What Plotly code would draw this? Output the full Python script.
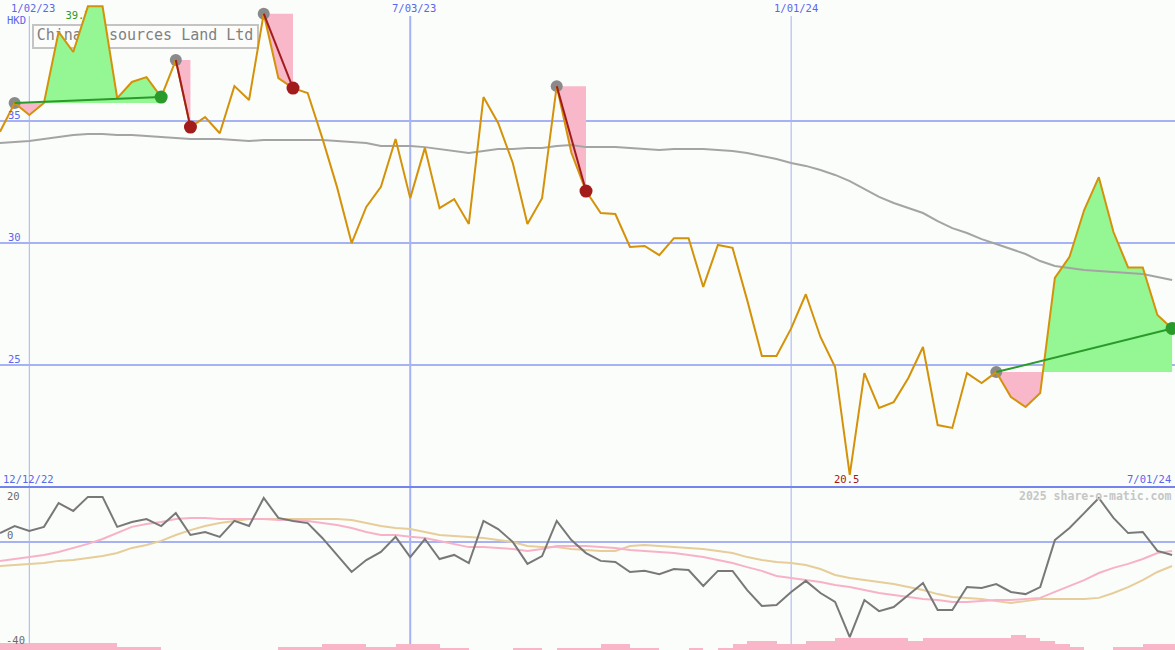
import numpy as np
import pandas as pd
import plotly.graph_objects as go

# ---------------- data ----------------
start_week = "2022-12-19"
n_weeks = 81

price = [34.56, 35.74, 35.25, 35.74, 38.65, 37.83, 39.7, 39.7, 35.94, 36.6,
         36.8, 35.98, 37.5, 34.75, 35.16, 34.5, 36.43, 35.86, 39.4, 36.76,
         36.35, 36.15, 34.3, 32.3, 30.0, 31.48, 32.3, 34.26, 31.84, 33.9,
         31.43, 31.8, 30.78, 35.98, 34.92, 33.28, 30.78, 31.84, 36.43, 33.7,
         32.13, 31.23, 31.19, 29.84, 29.88, 29.5, 30.2, 30.2, 28.2, 29.92,
         29.8, 27.66, 25.37, 25.37, 26.5, 27.9, 26.15, 24.92, 20.5, 24.67,
         23.24, 23.48, 24.47, 25.74, 22.54, 22.42, 24.67, 24.26, 24.71, 23.69,
         23.28, 23.85, 28.57, 29.43, 31.35, 32.7, 30.45, 29.0, 29.0, 27.05, 26.5]

moving_avg = [34.10, 34.14, 34.18, 34.26, 34.34, 34.43, 34.47, 34.47, 34.43, 34.43,
              34.39, 34.34, 34.30, 34.26, 34.26, 34.26, 34.22, 34.18, 34.22, 34.22,
              34.22, 34.22, 34.22, 34.18, 34.14, 34.10, 33.98, 33.98, 33.98, 33.93,
              33.85, 33.77, 33.69, 33.77, 33.85, 33.85, 33.89, 33.89, 33.98, 34.02,
              33.93, 33.93, 33.93, 33.89, 33.85, 33.81, 33.85, 33.85, 33.85, 33.81,
              33.77, 33.69, 33.57, 33.44, 33.28, 33.16, 32.99, 32.79, 32.54, 32.21,
              31.89, 31.64, 31.43, 31.23, 30.90, 30.61, 30.41, 30.16, 29.96, 29.75,
              29.55, 29.26, 29.06, 28.98, 28.89, 28.85, 28.81, 28.77, 28.73, 28.61, 28.48]

oscillator = [3.3, 5.9, 4.1, 5.6, 14.4, 11.5, 16.7, 16.7, 5.6, 7.4,
              8.5, 5.9, 10.7, 2.6, 3.7, 1.9, 7.8, 5.9, 16.3, 8.9,
              7.8, 7.0, 1.5, -4.8, -11.1, -6.7, -3.7, 1.9, -5.6, 1.1,
              -6.3, -4.8, -7.8, 7.8, 4.8, 0.0, -8.1, -5.2, 7.8, 0.7,
              -4.1, -7.0, -7.4, -11.1, -10.7, -11.9, -10.0, -10.4, -16.3, -10.7,
              -10.7, -17.8, -23.7, -23.3, -18.5, -14.4, -18.9, -22.2, -35.2, -21.5,
              -25.6, -24.1, -19.6, -15.2, -25.2, -25.2, -16.7, -17.0, -15.6, -18.5,
              -19.3, -16.7, 0.7, 5.2, 10.7, 16.3, 8.9, 3.3, 3.7, -3.3, -4.8]

osc_fast = [-7.0, -6.3, -5.6, -4.8, -3.7, -2.2, -0.7, 1.1, 3.3, 5.6,
            6.7, 7.4, 8.5, 8.9, 8.9, 8.5, 8.5, 8.5, 8.5, 8.1,
            8.1, 7.8, 7.0, 6.3, 5.2, 3.7, 2.6, 2.6, 1.9, 1.5,
            0.4, -0.7, -1.9, -1.9, -2.2, -2.6, -3.3, -2.6, -1.5, -1.5,
            -1.5, -1.9, -2.2, -3.0, -3.3, -3.7, -4.1, -4.8, -5.6, -6.7,
            -7.8, -9.3, -10.7, -12.6, -13.3, -14.1, -14.8, -15.9, -16.7, -17.8,
            -18.9, -19.6, -20.4, -21.1, -21.5, -22.2, -22.2, -21.9, -21.5, -21.5,
            -21.1, -20.7, -18.5, -16.3, -14.1, -11.5, -9.6, -8.1, -6.3, -4.1, -3.3]

osc_slow = [-8.9, -8.5, -8.1, -7.8, -7.0, -6.7, -5.9, -5.2, -4.1, -2.2,
            -1.1, 0.4, 2.6, 4.4, 5.9, 7.0, 7.8, 8.5, 8.5, 8.5,
            8.5, 8.5, 8.5, 8.5, 8.1, 7.0, 5.9, 5.2, 4.8, 3.7,
            2.6, 2.2, 1.9, 1.5, 0.7, 0.0, -1.5, -1.9, -1.9, -2.6,
            -3.0, -3.3, -3.3, -1.5, -1.1, -1.5, -1.9, -2.2, -2.6, -3.3,
            -4.1, -5.6, -6.7, -7.4, -7.8, -8.5, -10.0, -12.2, -13.3, -14.1,
            -14.8, -15.6, -16.7, -17.8, -19.3, -20.4, -20.7, -21.1, -21.9, -22.6,
            -21.9, -21.1, -21.1, -21.1, -21.1, -20.7, -18.9, -16.7, -14.1, -11.1, -8.9]

volume = [7, 7, 7, 7, 7, 7, 7, 7, 3, 3,
          3, 0, 0, 0, 0, 0, 0, 0, 0, 3,
          3, 3, 6, 6, 6, 3, 3, 6, 6, 6,
          2, 2, 0, 0, 0, 2, 2, 0, 2, 2,
          2, 6, 6, 2, 2, 0, 0, 2, 0, 2,
          6, 9, 9, 6, 6, 9, 9, 12, 12, 12,
          12, 12, 9, 12, 12, 12, 12, 12, 12, 15,
          12, 9, 6, 3, 0, 0, 3, 3, 6, 6, 6]

# signal segments: (start week index, end week index)
segments = [(1, 11), (12, 13), (18, 20), (38, 40), (68, 80)]

grid_prices = [35, 30, 25]
grid_dates = ["2023-01-02", "2023-07-03", "2024-01-01"]
grid_date_labels = ["1/02/23", "7/03/23", "1/01/24"]
title = "China Resources Land Ltd"
high_label = "39.7"
low_label = "20.5"

# ---------------- styling ----------------
W, H = 1175, 650
BG = "#fbfdfa"
GRID = "#a6b2f3"
SEP = "#7384ee"
BLUE_TXT = "#5a66ee"
ORANGE = "#d4920a"
GREEN_FILL = "#94f794"
PINK_FILL = "#f9b7ca"
GREEN_LINE = "#2a9a2a"
RED_LINE = "#a31c1c"
MONO = "DejaVu Sans Mono"

weeks = pd.date_range(start_week, periods=n_weeks, freq="7D")
x_start = pd.Timestamp(start_week)
x_end = x_start + pd.Timedelta(days=561.4)

fig = go.Figure()


def px(x):
    return x / W


def py(y):
    return 1 - y / H


# high label, then title text (both drawn below the fills as in the original)
fig.add_trace(go.Scatter(
    x=[x_start + pd.Timedelta(days=37.3)], y=[39.3], mode="text", text=[high_label],
    textfont=dict(family=MONO, size=10.5, color=GREEN_LINE), textposition="middle center",
    hoverinfo="skip", showlegend=False))
fig.add_trace(go.Scatter(
    x=[x_start + pd.Timedelta(days=69.3)], y=[38.46], mode="text", text=[title],
    textfont=dict(family=MONO, size=15, color="#808080"), textposition="middle center",
    hoverinfo="skip", showlegend=False, xaxis="x", yaxis="y"))


def fill_polys(i0, i1):
    base = price[i0]
    xs = weeks[i0:i1 + 1].asi8.astype(float)
    ys = price[i0:i1 + 1]
    ux, uy, dx, dy = [], [], [], []
    for k in range(len(xs)):
        if k > 0:
            a, b = ys[k - 1] - base, ys[k] - base
            if a * b < 0:
                xc = xs[k - 1] + (xs[k] - xs[k - 1]) * a / (a - b)
                ux.append(xc); uy.append(base)
                dx.append(xc); dy.append(base)
        ux.append(xs[k]); uy.append(max(ys[k], base))
        dx.append(xs[k]); dy.append(min(ys[k], base))
    ux += [xs[-1], xs[0]]; uy += [base, base]
    dx += [xs[-1], xs[0]]; dy += [base, base]
    conv = lambda arr: pd.to_datetime(np.array(arr, dtype="int64"))
    return (conv(ux), uy), (conv(dx), dy), any(v > base for v in ys), any(v < base for v in ys)


for i0, i1 in segments:
    (ux, uy), (dx, dy), has_up, has_dn = fill_polys(i0, i1)
    if has_up:
        fig.add_trace(go.Scatter(x=ux, y=uy, mode="lines", fill="toself", fillcolor=GREEN_FILL,
                                 line=dict(width=0), hoverinfo="skip", showlegend=False))
    if has_dn:
        fig.add_trace(go.Scatter(x=dx, y=dy, mode="lines", fill="toself", fillcolor=PINK_FILL,
                                 line=dict(width=0), hoverinfo="skip", showlegend=False))

# start markers (grey)
fig.add_trace(go.Scatter(x=[weeks[a] for a, b in segments], y=[price[a] for a, b in segments],
                         mode="markers", marker=dict(size=12, color="#8a8a8a"),
                         hoverinfo="skip", showlegend=False))

# moving average
fig.add_trace(go.Scatter(x=weeks, y=moving_avg, mode="lines", line=dict(color="#a4a4a4", width=2),
                         hoverinfo="skip", showlegend=False))

# price line
fig.add_trace(go.Scatter(x=weeks, y=price, mode="lines", line=dict(color=ORANGE, width=2),
                         hoverinfo="skip", showlegend=False))

# segment lines and end markers
for a, b in segments:
    col = GREEN_LINE if price[b] > price[a] else RED_LINE
    fig.add_trace(go.Scatter(x=[weeks[a], weeks[b]], y=[price[a], price[b]], mode="lines",
                             line=dict(color=col, width=2), hoverinfo="skip", showlegend=False))
    fig.add_trace(go.Scatter(x=[weeks[b]], y=[price[b]], mode="markers",
                             marker=dict(size=13, color=col), hoverinfo="skip", showlegend=False))

# volume bars (lower panel)
fig.add_trace(go.Bar(x=weeks, y=volume, offset=0, width=7 * 86400000,
                     marker=dict(color="#f9b6c8", line=dict(width=0)),
                     xaxis="x", yaxis="y3", hoverinfo="skip", showlegend=False))

# oscillator lines
fig.add_trace(go.Scatter(x=weeks, y=osc_slow, mode="lines", line=dict(color="#e6cd9a", width=2),
                         xaxis="x", yaxis="y2", hoverinfo="skip", showlegend=False))
fig.add_trace(go.Scatter(x=weeks, y=osc_fast, mode="lines", line=dict(color="#f8b2c8", width=2),
                         xaxis="x", yaxis="y2", hoverinfo="skip", showlegend=False))
fig.add_trace(go.Scatter(x=weeks, y=oscillator, mode="lines", line=dict(color="#787878", width=2),
                         xaxis="x", yaxis="y2", hoverinfo="skip", showlegend=False))

shapes = []
for v in grid_prices:
    shapes.append(dict(type="line", xref="paper", x0=0, x1=1, yref="y", y0=v, y1=v,
                       line=dict(color=GRID, width=2), layer="below"))
shapes.append(dict(type="line", xref="paper", x0=0, x1=1, yref="y2", y0=0, y1=0,
                   line=dict(color=GRID, width=2), layer="below"))
for d, wdt in zip(grid_dates, [1, 2, 1]):
    shapes.append(dict(type="line", xref="x", x0=d, x1=d, yref="paper", y0=0, y1=py(16),
                       line=dict(color=GRID, width=wdt), layer="below"))
shapes.append(dict(type="rect", xref="paper", x0=px(33), x1=px(258), yref="paper", y0=py(48), y1=py(25),
                   line=dict(color="#c4c4c4", width=2), fillcolor="#fcfdfb", layer="below"))
shapes.append(dict(type="line", xref="paper", x0=0, x1=1, yref="paper", y0=py(487), y1=py(487),
                   line=dict(color=SEP, width=2), layer="above"))

annotations = []


def ann(text, x, y, xanchor="left", color=BLUE_TXT, size=10.5, bold=False):
    t = f"<b>{text}</b>" if bold else text
    annotations.append(dict(text=t, x=px(x), y=py(y), xref="paper", yref="paper", xanchor=xanchor,
                            yanchor="middle", showarrow=False,
                            font=dict(family=MONO, size=size, color=color)))


ann("HKD", 5, 20)
for v, yy in zip(grid_prices, [115, 237, 359]):
    ann(str(v), 6, yy)
for lab, xx in zip(grid_date_labels, [33, 414, 796]):
    ann(lab, xx, 8, xanchor="center")
ann("12/12/22", 1, 479)
ann("7/01/24", 1173, 479, xanchor="right")
ann(low_label, 846, 479, xanchor="center", color="#a01818")
ann("20", 5, 496, color="#6a6a6a")
ann("0", 5, 535, color="#6a6a6a")
ann("-40", 4, 640, color="#6a6a6a")
ann("2025 share-o-matic.com", 1173, 496, xanchor="right", color="#c6c6c6", size=11.5, bold=True)

split = 163 / H
fig.update_layout(
    width=W, height=H, margin=dict(l=0, r=0, t=0, b=0),
    paper_bgcolor=BG, plot_bgcolor=BG, showlegend=False, bargap=0,
    xaxis=dict(range=[x_start, x_end], visible=False, fixedrange=True),
    yaxis=dict(domain=[split, 1], range=[20.0, 39.96], visible=False),
    yaxis2=dict(domain=[0, split - 0.0015], range=[-40, 20], visible=False, anchor="x"),
    yaxis3=dict(domain=[0, split - 0.0015], range=[0, 162], visible=False, overlaying="y2", anchor="x"),
    shapes=shapes, annotations=annotations,
)

fig.write_html("out.html", config={"displayModeBar": False},
               post_script="document.body.style.margin='0';")
